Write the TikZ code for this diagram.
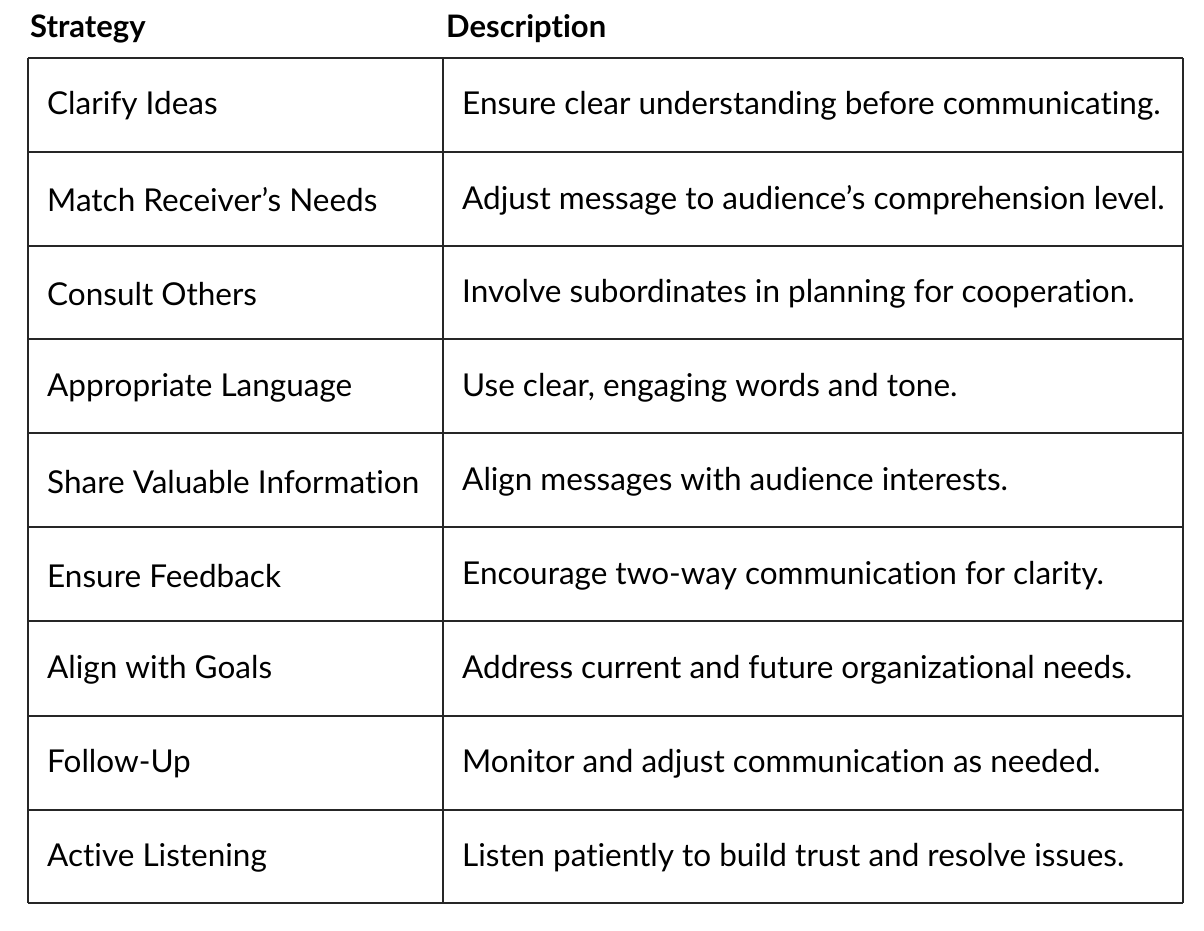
\documentclass[tikz,border=0pt]{standalone}
\usepackage{fontspec}
\setmainfont[RawFeature=-liga]{Lato}
\begin{document}
\begin{tikzpicture}[x=1pt,y=-1pt,
  cell/.style={anchor=west,inner sep=0pt,font=\fontsize{31.5}{34}\selectfont},
  head/.style={anchor=west,inner sep=0pt,font=\fontsize{31}{34}\selectfont\bfseries},
  grid/.style={draw=black!85,line width=1.4pt}]
\useasboundingbox[fill=white] (0,0) rectangle (1204,930);
\node[head] (h1) at (30,29) {Strategy};
\node[head] (h2) at (446,29) {Description};
\def\ys{58,152,246,339,433,527,621,716,810,903}
\foreach \y in \ys {\draw[grid] (28,\y) -- (1183,\y);}
\draw[grid] (28,58) -- (28,903);
\draw[grid] (443,58) -- (443,903);
\draw[grid] (1183,58) -- (1183,903);
\foreach \i/\a/\b in {
 0/Clarify Ideas/Ensure clear understanding before communicating.,
 1/Match Receiver’s Needs/Adjust message to audience’s comprehension level.,
 2/Consult Others/Involve subordinates in planning for cooperation.,
 3/Appropriate Language/{Use clear, engaging words and tone.},
 4/Share Valuable Information/Align messages with audience interests.,
 5/Ensure Feedback/Encourage two-way communication for clarity.,
 6/Align with Goals/Address current and future organizational needs.,
 7/Follow-Up/Monitor and adjust communication as needed.,
 8/Active Listening/Listen patiently to build trust and resolve issues.}{
 \node[cell] (s\i) at (47,106+94*\i) {\a};
 \node[cell] (d\i) at (462,106+94*\i) {\b};
}
\end{tikzpicture}
\end{document}
